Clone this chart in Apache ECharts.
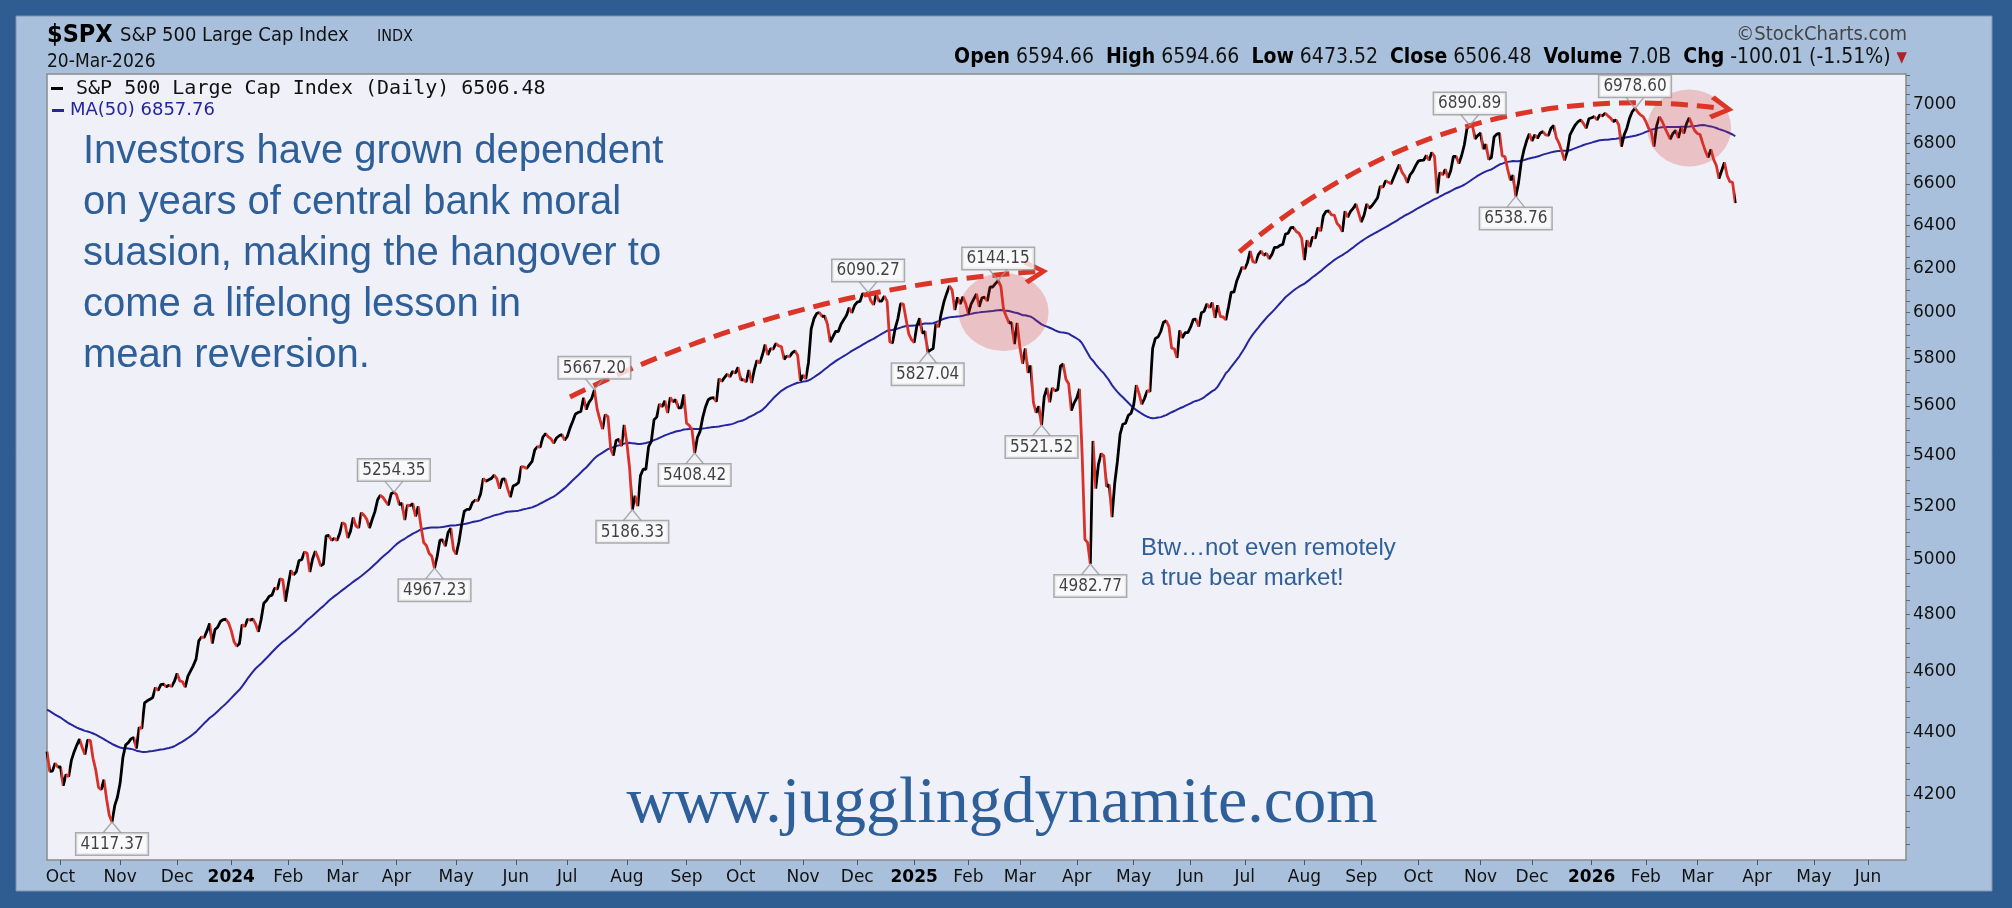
<!DOCTYPE html>
<html>
<head>
<meta charset="utf-8">
<title>$SPX S&amp;P 500 Large Cap Index</title>
<script src="https://cdn.jsdelivr.net/npm/echarts@6/dist/echarts.min.js"></script>
<style>
  html, body { margin: 0; padding: 0; background: #2f5d92; }
  #chart { width: 2012px; height: 908px; }
</style>
</head>
<body>
<div id="chart"></div>
<script>
// daily closes (first day 2023-09-25, last day 2026-03-20)
const priorCloses = [
  4505, 4522, 4555, 4566, 4535, 4536, 4555, 4567, 4566, 4537, 4582, 4589,
  4577, 4513, 4502, 4478, 4518, 4499, 4468, 4469, 4464, 4490, 4438, 4404, 4370, 4370,
  4400, 4388, 4436, 4376, 4406, 4433, 4498, 4515, 4508,
  4516, 4497, 4465, 4451, 4457, 4487, 4462, 4467, 4505, 4450, 4454, 4444, 4402, 4330, 4320
];
const closes2023 = [
  4337, 4274, 4275, 4300, 4288,
  4288, 4229, 4264, 4258, 4309, 4336, 4358, 4377, 4350, 4328, 4374, 4373, 4315, 4278, 4224, 4217, 4248, 4187, 4137, 4117.37, 4167, 4194,
  4238, 4318, 4358, 4366, 4378, 4383, 4347, 4415, 4412, 4496, 4503, 4508, 4514, 4547, 4538, 4557, 4559, 4550, 4555, 4551, 4568,
  4595, 4570, 4567, 4549, 4586, 4604, 4622, 4644, 4707, 4720, 4719, 4741, 4768, 4698, 4747, 4755, 4775, 4782, 4783, 4770
];
const closes2024 = [
  4743, 4705, 4689, 4697, 4764, 4757, 4783, 4780, 4784, 4766, 4739, 4781, 4840, 4850, 4865, 4869, 4894, 4891, 4928, 4925, 4846,
  4906, 4959, 4943, 4954, 4995, 4998, 5027, 5022, 4953, 5001, 5030, 5006, 4976, 4982, 5087, 5089, 5070, 5078, 5070, 5096,
  5137, 5131, 5079, 5105, 5157, 5124, 5118, 5175, 5165, 5150, 5117, 5149, 5179, 5225, 5242, 5234, 5218, 5204, 5248, 5254.35,
  5244, 5206, 5211, 5147, 5204, 5202, 5210, 5161, 5199, 5123, 5062, 5051, 5022, 5011, 4967.23, 5011, 5071, 5072, 5048, 5100, 5116, 5036,
  5018, 5064, 5128, 5181, 5188, 5188, 5214, 5223, 5221, 5247, 5308, 5297, 5303, 5308, 5321, 5307, 5268, 5305, 5306, 5267, 5235, 5278,
  5283, 5291, 5354, 5353, 5347, 5361, 5375, 5421, 5434, 5432, 5473, 5487, 5473, 5465, 5448, 5469, 5478, 5483, 5460,
  5475, 5509, 5537, 5567, 5573, 5577, 5634, 5585, 5615, 5631, 5667.20, 5588, 5545, 5505, 5564, 5556, 5427, 5399, 5459, 5464, 5436, 5522,
  5447, 5347, 5186.33, 5240, 5200, 5319, 5344, 5344, 5434, 5455, 5543, 5554, 5608, 5597, 5621, 5571, 5635, 5617, 5626, 5592, 5592, 5648,
  5529, 5520, 5503, 5408.42, 5471, 5496, 5554, 5596, 5626, 5633, 5635, 5618, 5714, 5703, 5719, 5733, 5722, 5745, 5738, 5762,
  5709, 5710, 5700, 5751, 5696, 5751, 5792, 5780, 5815, 5860, 5815, 5842, 5841, 5865, 5854, 5851, 5797, 5810, 5808, 5824, 5833, 5814, 5705,
  5729, 5713, 5783, 5929, 5973, 5996, 6001, 5984, 5985, 5949, 5871, 5894, 5917, 5917, 5949, 5969, 5987, 6022, 5999, 6032,
  6047, 6050, 6086, 6075, 6090.27, 6053, 6035, 6084, 6051, 6051, 6074, 6051, 5872, 5867, 5931, 5974, 6040, 6038, 5971, 5907, 5882
];
const closes2025 = [
  5869, 5942, 5975, 5909, 5918, 5827.04, 5836, 5843, 5950, 5937, 5997, 6049, 6086, 6119, 6101, 6012, 6068, 6039, 6071, 6041,
  5995, 6038, 6061, 6084, 6026, 6066, 6069, 6052, 6115, 6115, 6130, 6144.15, 6118, 6013, 5983, 5955, 5956, 5862, 5955,
  5850, 5778, 5843, 5739, 5770, 5615, 5572, 5599, 5521.52, 5639, 5675, 5615, 5675, 5663, 5668, 5768, 5777, 5712, 5693, 5581, 5612,
  5633, 5671, 5397, 5074, 5062, 4982.77, 5457, 5268, 5363, 5406, 5397, 5276, 5283, 5158, 5288, 5376, 5485, 5525, 5529, 5561, 5569,
  5604, 5687, 5650, 5607, 5631, 5664, 5660, 5844, 5887, 5893, 5917, 5958, 5964, 5940, 5845, 5842, 5803, 5922, 5889, 5912, 5912,
  5936, 5970, 5971, 5939, 6000, 6006, 6039, 6022, 6045, 5977, 6033, 5983, 5981, 5968, 6025, 6092, 6092, 6141, 6173, 6205,
  6198, 6227, 6279, 6230, 6226, 6263, 6280, 6260, 6269, 6244, 6264, 6297, 6297, 6306, 6310, 6359, 6363, 6389, 6390, 6371, 6363, 6339,
  6238, 6330, 6299, 6345, 6340, 6389, 6373, 6446, 6467, 6469, 6450, 6449, 6411, 6396, 6370, 6467, 6439, 6466, 6481, 6502, 6460,
  6416, 6448, 6502, 6482, 6495, 6513, 6532, 6587, 6584, 6615, 6607, 6600, 6632, 6664, 6694, 6657, 6638, 6605, 6644, 6661, 6688,
  6711, 6715, 6716, 6740, 6715, 6754, 6735, 6553, 6655, 6644, 6671, 6629, 6664, 6735, 6735, 6699, 6738, 6792, 6875, 6890.89, 6890.59, 6822, 6840,
  6852, 6772, 6796, 6720, 6729, 6832, 6847, 6851, 6737, 6734, 6672, 6617, 6642, 6538.76, 6603, 6705, 6766, 6813, 6849,
  6812, 6843, 6826, 6851, 6860, 6843, 6840, 6877, 6890, 6827, 6800, 6760, 6715, 6759, 6843, 6870, 6894, 6910, 6919, 6900, 6877, 6925
];
const closes2026 = [
  6930, 6936, 6919, 6945, 6940, 6953, 6940, 6928, 6911, 6919, 6894, 6784, 6843, 6877, 6928, 6962, 6978.60, 6960, 6945, 6936,
  6911, 6877, 6860, 6784, 6890, 6935, 6912, 6880, 6850, 6822, 6850, 6865, 6828, 6880, 6850, 6900, 6930, 6895, 6865,
  6850, 6845, 6800, 6760, 6730, 6770, 6720, 6690, 6625, 6665, 6705, 6640, 6610, 6606.49, 6506.48
];

const holidays = [
  '2023-11-23', '2023-12-25',
  '2024-01-01', '2024-01-15', '2024-02-19', '2024-03-29', '2024-05-27', '2024-06-19', '2024-07-04', '2024-09-02', '2024-11-28', '2024-12-25',
  '2025-01-01', '2025-01-09', '2025-01-20', '2025-02-17', '2025-04-18', '2025-05-26', '2025-06-19', '2025-07-04', '2025-09-01', '2025-11-27', '2025-12-25',
  '2026-01-01', '2026-01-19', '2026-02-16', '2026-04-03', '2026-05-25', '2026-06-19'
];
const monthNames = ['Jan', 'Feb', 'Mar', 'Apr', 'May', 'Jun', 'Jul', 'Aug', 'Sep', 'Oct', 'Nov', 'Dec'];
const yTickLabels = [4200, 4400, 4600, 4800, 5000, 5200, 5400, 5600, 5800, 6000, 6200, 6400, 6600, 6800, 7000];
const yMinorTicks = [];
for (let v = 4050; v <= 7150; v += 50) yMinorTicks.push(v);

// labelled turning points: [date, side]
const callouts = [
  ['2023-10-27', 'low'], ['2024-03-28', 'high'], ['2024-04-19', 'low'], ['2024-07-16', 'high'],
  ['2024-08-05', 'low'], ['2024-09-06', 'low'], ['2024-12-06', 'high'], ['2025-01-10', 'low'],
  ['2025-02-19', 'high'], ['2025-03-13', 'low'], ['2025-04-08', 'low'], ['2025-10-28', 'high'],
  ['2025-11-20', 'low'], ['2026-01-27', 'high']
];
// shaded circles: [date, value, width, height]
const circles = [['2025-02-21', 6003, 90, 78], ['2026-02-25', 6878, 84, 77]];
// dashed arrows: [fromDate, fromValue, toDate, toValue, curveness]
const arrows = [
  ['2024-07-02', 5637, '2025-03-11', 6184, 0.1],
  ['2025-06-27', 6276, '2026-03-13', 6978, 0.22]
];

const closes = closes2023.concat(closes2024, closes2025, closes2026);

function tradingDays(start, count) {
  const out = [];
  const d = new Date(start + 'T12:00:00Z');
  while (out.length < count) {
    const wd = d.getUTCDay();
    const s = d.toISOString().slice(0, 10);
    if (wd !== 0 && wd !== 6 && holidays.indexOf(s) < 0) out.push(s);
    d.setUTCDate(d.getUTCDate() + 1);
  }
  return out;
}

const days = tradingDays('2023-09-25', 687);
const dayIndex = {};
days.forEach((d, i) => { dayIndex[d] = i; });

const monthStart = days.map((d, i) => i > 0 && d.slice(5, 7) !== days[i - 1].slice(5, 7));

// 50-day moving average
const allCloses = priorCloses.concat(closes);
const ma50 = closes.map((_, i) => {
  const j = i + priorCloses.length;
  let s = 0;
  for (let k = j - 49; k <= j; k++) s += allCloses[k];
  return +(s / 50).toFixed(2);
});

// red where the close fell
const redPieces = [];
for (let i = 1; i < closes.length; i++) {
  if (closes[i] < closes[i - 1]) {
    const last = redPieces[redPieces.length - 1];
    if (last && last.lte === i - 1) last.lte = i;
    else redPieces.push({ gte: i - 1, lte: i, color: '#d8312a' });
  }
}

const condensed = '"DejaVu Sans Condensed", "DejaVu Sans", sans-serif';
const blue = '#2e5f99';

const calloutData = callouts.map(([date, side]) => {
  const i = dayIndex[date];
  const high = side === 'high';
  return {
    value: [i, closes[i]],
    symbol: high ? 'path://M0,0L9,11L18,0' : 'path://M0,11L9,0L18,11',
    symbolOffset: [0, high ? -5.5 : 5.5],
    label: { position: high ? 'top' : 'bottom' }
  };
});

const chart = echarts.init(document.getElementById('chart'));

chart.setOption({
  animation: false,
  backgroundColor: '#2f5d92',
  grid: {
    left: 47, top: 74, right: 106, bottom: 48,
    show: true, backgroundColor: '#eff0f8', borderColor: '#8a8a8a', borderWidth: 1.5
  },
  xAxis: {
    type: 'category',
    data: days,
    boundaryGap: false,
    axisLine: { show: false },
    axisTick: {
      interval: (i) => monthStart[i],
      length: 5,
      lineStyle: { color: '#555' }
    },
    axisLabel: {
      interval: (i) => monthStart[i],
      margin: 9,
      fontSize: 17,
      fontFamily: 'DejaVu Sans',
      color: '#111',
      formatter: (v) => {
        const m = +v.slice(5, 7);
        return m === 1 ? '{y|' + v.slice(0, 4) + '}' : monthNames[m - 1];
      },
      rich: { y: { fontWeight: 'bold', fontSize: 17, fontFamily: 'DejaVu Sans', color: '#000' } }
    },
    splitLine: { show: false }
  },
  yAxis: {
    type: 'log',
    logBase: 10,
    position: 'right',
    min: 4003,
    max: 7158,
    axisLine: { show: false },
    splitLine: { show: false },
    minorTick: { show: false },
    axisTick: { show: true, customValues: yMinorTicks, length: 4, lineStyle: { color: '#666' } },
    axisLabel: {
      customValues: yTickLabels,
      margin: 7,
      fontSize: 17,
      fontFamily: 'DejaVu Sans',
      color: '#111',
      formatter: (v) => String(Math.round(v))
    }
  },
  visualMap: {
    type: 'piecewise',
    show: false,
    seriesIndex: 0,
    dimension: 0,
    pieces: redPieces,
    outOfRange: { color: '#000' }
  },
  series: [
    {
      name: 'S&P 500',
      type: 'line',
      data: closes,
      showSymbol: false,
      silent: true,
      z: 3,
      lineStyle: { width: 2.8 }
    },
    {
      name: 'MA(50)',
      type: 'line',
      data: ma50,
      showSymbol: false,
      silent: true,
      z: 2,
      lineStyle: { width: 2, color: '#25259e' },
      itemStyle: { color: '#25259e' }
    },
    {
      type: 'scatter',
      silent: true,
      z: 4,
      symbol: 'circle',
      itemStyle: { color: 'rgba(218,50,42,0.3)' },
      data: circles.map(c => ({ value: [dayIndex[c[0]], c[1]], symbolSize: [c[2], c[3]] }))
    },
    {
      type: 'lines',
      coordinateSystem: 'cartesian2d',
      silent: true,
      z: 5,
      symbol: ['none', 'path://M12,0L24,18L20,21L12,8L4,21L0,18Z'],
      symbolSize: 24,
      lineStyle: { color: '#dc3427', width: 5, type: [17, 9], opacity: 1 },
      data: arrows.map(a => ({
        coords: [[dayIndex[a[0]], a[1]], [dayIndex[a[2]], a[3]]],
        lineStyle: { curveness: a[4] }
      }))
    },
    {
      type: 'scatter',
      silent: true,
      z: 6,
      symbolSize: [18, 11],
      itemStyle: { color: 'rgba(0,0,0,0)', borderColor: '#999', borderWidth: 1.3 },
      label: {
        show: true,
        distance: 0,
        formatter: (p) => p.value[1].toFixed(2),
        fontFamily: condensed,
        fontSize: 17,
        lineHeight: 18,
        color: '#111',
        backgroundColor: '#fbfbfd',
        borderColor: '#9a9a9a',
        borderWidth: 1.5,
        padding: [2, 4, 1, 4]
      },
      data: calloutData
    }
  ],
  graphic: [
    { type: 'rect', z: -1, silent: true, shape: { x: 16, y: 16, width: 1976, height: 875 }, style: { fill: '#a9c0dc', stroke: '#7d92ad', lineWidth: 1 } },
    { type: 'text', silent: true, style: { x: 47, y: 35, text: '$SPX', font: 'bold 25px ' + condensed, fill: '#000', textVerticalAlign: 'middle', verticalAlign: 'middle' } },
    { type: 'text', silent: true, style: { x: 120, y: 36, text: 'S&P 500 Large Cap Index', font: '20px ' + condensed, fill: '#111', textVerticalAlign: 'middle', verticalAlign: 'middle' } },
    { type: 'text', silent: true, style: { x: 377, y: 37, text: 'INDX', font: '16px ' + condensed, fill: '#111', textVerticalAlign: 'middle', verticalAlign: 'middle' } },
    { type: 'text', silent: true, style: { x: 47, y: 62, text: '20-Mar-2026', font: '19px ' + condensed, fill: '#111', textVerticalAlign: 'middle', verticalAlign: 'middle' } },
    { type: 'text', silent: true, style: { x: 1907, y: 35, text: '©StockCharts.com', font: '20px ' + condensed, fill: '#444', textAlign: 'right', align: 'right', textVerticalAlign: 'middle', verticalAlign: 'middle' } },
    {
      type: 'text', silent: true,
      style: {
        x: 1907, y: 58, textAlign: 'right', align: 'right', textVerticalAlign: 'middle', verticalAlign: 'middle',
        font: '21px ' + condensed, fill: '#111',
        text: '{b|Open} 6594.66  {b|High} 6594.66  {b|Low} 6473.52  {b|Close} 6506.48  {b|Volume} 7.0B  {b|Chg} -100.01 (-1.51%) {r|▼}',
        rich: {
          b: { font: 'bold 21px ' + condensed, fill: '#000' },
          r: { font: '15px ' + condensed, fill: '#b3202a' }
        }
      }
    },
    { type: 'rect', silent: true, z: 10, shape: { x: 51, y: 87, width: 12, height: 3 }, style: { fill: '#000' } },
    { type: 'text', silent: true, z: 10, style: { x: 76, y: 89, text: 'S&P 500 Large Cap Index (Daily) 6506.48', font: '20px "DejaVu Sans Mono", monospace', fill: '#111', textVerticalAlign: 'middle', verticalAlign: 'middle' } },
    { type: 'rect', silent: true, z: 10, shape: { x: 52, y: 109, width: 12, height: 3 }, style: { fill: '#25259e' } },
    { type: 'text', silent: true, z: 10, style: { x: 70, y: 110, text: 'MA(50) 6857.76', font: '18px "DejaVu Sans", sans-serif', fill: '#25259e', textVerticalAlign: 'middle', verticalAlign: 'middle' } },
    {
      type: 'text', silent: true, z: 10,
      style: {
        x: 83, y: 126, textVerticalAlign: 'top', verticalAlign: 'top',
        text: 'Investors have grown dependent\non years of central bank moral\nsuasion, making the hangover to\ncome a lifelong lesson in\nmean reversion.',
        font: '40px "Liberation Sans", Arial, sans-serif', lineHeight: 51, fill: blue
      }
    },
    {
      type: 'text', silent: true, z: 10,
      style: {
        x: 1141, y: 533, textVerticalAlign: 'top', verticalAlign: 'top',
        text: 'Btw…not even remotely\na true bear market!',
        font: '24px "Liberation Sans", Arial, sans-serif', lineHeight: 30, fill: blue
      }
    },
    {
      type: 'text', silent: true, z: 10,
      style: {
        x: 1002, y: 805, textAlign: 'center', align: 'center', textVerticalAlign: 'middle', verticalAlign: 'middle',
        text: 'www.jugglingdynamite.com',
        font: '66px "Liberation Serif", "Times New Roman", serif', fill: blue
      }
    }
  ]
});
</script>
</body>
</html>
